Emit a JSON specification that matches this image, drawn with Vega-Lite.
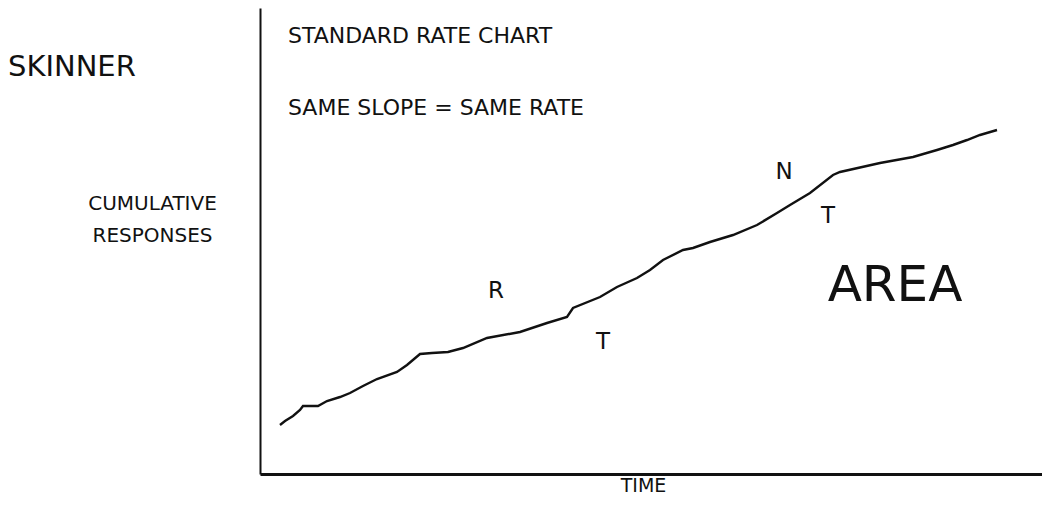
{
  "$schema": "https://vega.github.io/schema/vega-lite/v6.json",
  "width": 782,
  "height": 466,
  "autosize": {"type": "none"},
  "padding": {"left": 260, "top": 8, "right": 0, "bottom": 46},
  "background": "white",
  "config": {
    "view": {"stroke": null},
    "font": "DejaVu Sans",
    "text": {"font": "DejaVu Sans", "color": "#111111", "fontWeight": "normal"}
  },
  "datasets": {
    "curve": [
      {"time": 2.0, "responses": 4.9}, {"time": 2.5, "responses": 5.3}, {"time": 3.3, "responses": 5.8},
      {"time": 4.0, "responses": 6.4}, {"time": 4.3, "responses": 6.8}, {"time": 5.8, "responses": 6.8},
      {"time": 6.7, "responses": 7.3}, {"time": 8.0, "responses": 7.7}, {"time": 9.0, "responses": 8.1},
      {"time": 10.3, "responses": 8.8}, {"time": 11.7, "responses": 9.5}, {"time": 13.7, "responses": 10.2},
      {"time": 14.7, "responses": 10.9}, {"time": 16.0, "responses": 12.0}, {"time": 17.2, "responses": 12.1},
      {"time": 18.8, "responses": 12.2}, {"time": 20.3, "responses": 12.6}, {"time": 22.7, "responses": 13.6},
      {"time": 26.0, "responses": 14.2}, {"time": 28.7, "responses": 15.1}, {"time": 30.7, "responses": 15.7},
      {"time": 31.3, "responses": 16.6}, {"time": 34.0, "responses": 17.7}, {"time": 35.7, "responses": 18.7},
      {"time": 37.7, "responses": 19.6}, {"time": 39.0, "responses": 20.4}, {"time": 40.3, "responses": 21.4},
      {"time": 42.3, "responses": 22.4}, {"time": 43.3, "responses": 22.6}, {"time": 45.0, "responses": 23.2},
      {"time": 47.3, "responses": 23.9}, {"time": 49.7, "responses": 24.9}, {"time": 51.7, "responses": 26.1},
      {"time": 53.0, "responses": 26.9}, {"time": 55.0, "responses": 28.1}, {"time": 57.3, "responses": 29.9},
      {"time": 58.0, "responses": 30.2}, {"time": 62.0, "responses": 31.1}, {"time": 65.3, "responses": 31.7},
      {"time": 67.7, "responses": 32.4}, {"time": 69.3, "responses": 32.9}, {"time": 70.7, "responses": 33.4},
      {"time": 72.0, "responses": 33.9}, {"time": 73.7, "responses": 34.4}
    ],
    "headings": [
      {"time": 2.8, "responses": 43.8, "label": "STANDARD RATE CHART"},
      {"time": 2.8, "responses": 36.6, "label": "SAME SLOPE = SAME RATE"}
    ],
    "letters": [
      {"time": 23.6, "responses": 18.3, "label": "R"},
      {"time": 34.3, "responses": 13.2, "label": "T"},
      {"time": 52.4, "responses": 30.2, "label": "N"},
      {"time": 56.8, "responses": 25.8, "label": "T"}
    ],
    "area": [{"time": 63.5, "responses": 18.8, "label": "AREA"}],
    "name": [{"time": -25.2, "responses": 40.7, "label": "SKINNER"}]
  },
  "layer": [
    {
      "data": {"name": "curve"},
      "mark": {"type": "line", "color": "#111111", "strokeWidth": 2.4},
      "encoding": {
        "x": {
          "field": "time", "type": "quantitative",
          "scale": {"domain": [0, 78.2], "nice": false, "zero": false},
          "axis": {
            "domain": true, "domainColor": "#111111", "domainWidth": 3,
            "ticks": false, "labels": false, "grid": false,
            "title": "TIME", "titleX": 383, "titleY": 11,
            "titleAlign": "center", "titleBaseline": "middle",
            "titleFont": "DejaVu Sans", "titleFontSize": 19, "titleFontWeight": "normal", "titleColor": "#111111"
          }
        },
        "y": {
          "field": "responses", "type": "quantitative",
          "scale": {"domain": [0, 46.6], "nice": false, "zero": false},
          "axis": {
            "domain": true, "domainColor": "#111111", "domainWidth": 2,
            "ticks": false, "labels": false, "grid": false,
            "title": ["CUMULATIVE", "RESPONSES"], "titleAngle": 0,
            "titleX": -108, "titleY": 195, "titleAlign": "center", "titleBaseline": "middle",
            "titleLineHeight": 32,
            "titleFont": "DejaVu Sans", "titleFontSize": 20, "titleFontWeight": "normal", "titleColor": "#111111"
          }
        }
      }
    },
    {
      "data": {"name": "headings"},
      "mark": {"type": "text", "align": "left", "baseline": "middle", "fontSize": 22},
      "encoding": {
        "x": {"field": "time", "type": "quantitative"},
        "y": {"field": "responses", "type": "quantitative"},
        "text": {"field": "label"}
      }
    },
    {
      "data": {"name": "letters"},
      "mark": {"type": "text", "align": "center", "baseline": "middle", "fontSize": 23},
      "encoding": {
        "x": {"field": "time", "type": "quantitative"},
        "y": {"field": "responses", "type": "quantitative"},
        "text": {"field": "label"}
      }
    },
    {
      "data": {"name": "area"},
      "mark": {"type": "text", "align": "center", "baseline": "middle", "fontSize": 50},
      "encoding": {
        "x": {"field": "time", "type": "quantitative"},
        "y": {"field": "responses", "type": "quantitative"},
        "text": {"field": "label"}
      }
    },
    {
      "data": {"name": "name"},
      "mark": {"type": "text", "align": "left", "baseline": "middle", "fontSize": 29},
      "encoding": {
        "x": {"field": "time", "type": "quantitative"},
        "y": {"field": "responses", "type": "quantitative"},
        "text": {"field": "label"}
      }
    }
  ]
}
